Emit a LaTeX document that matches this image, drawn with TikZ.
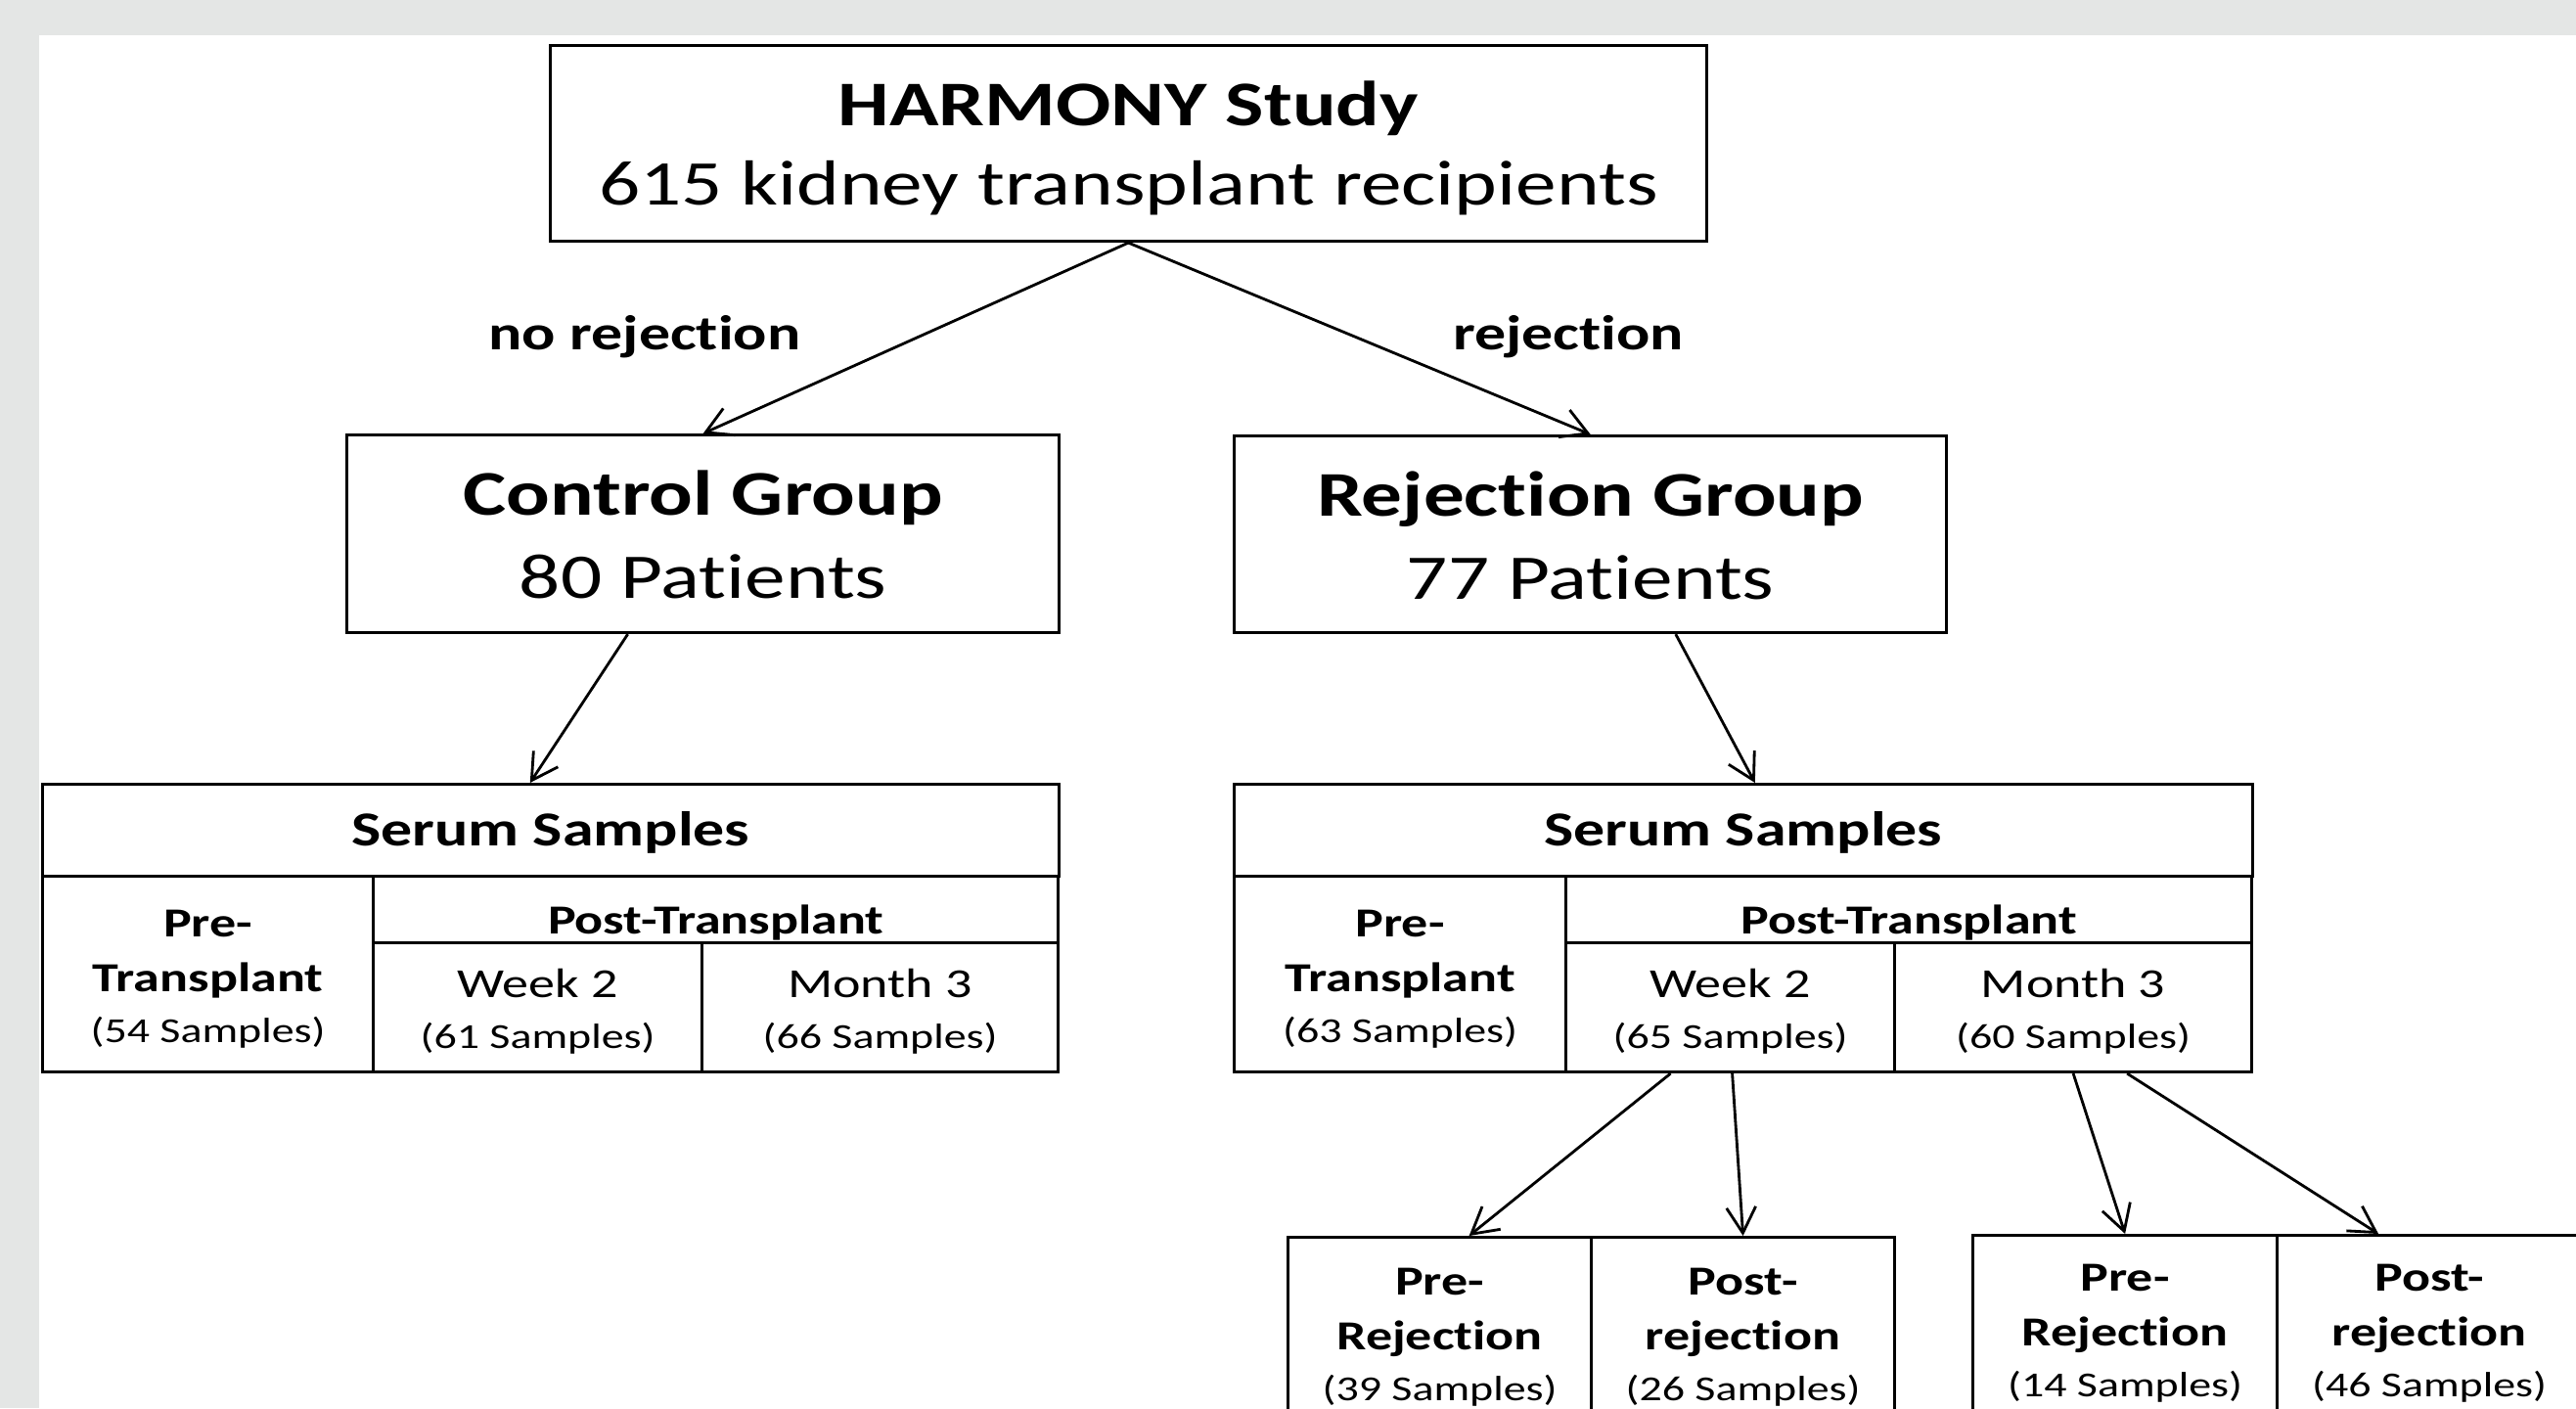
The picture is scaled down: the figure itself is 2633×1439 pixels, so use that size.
\documentclass[tikz,border=0pt]{standalone}
\usepackage{fontspec}
\setmainfont{Carlito}[FakeStretch=1.28,Ligatures=NoCommon]
\usetikzlibrary{arrows.meta,calc}
\definecolor{bggray}{RGB}{228,230,229}
\newcommand\szbig{\fontsize{18.5}{23}\selectfont}
\newcommand\szmed{\fontsize{14.2}{17}\selectfont}
\newcommand\sztab{\fontsize{12}{15.8}\selectfont}
\newcommand\szsmp{\fontsize{10.2}{12}\selectfont}
\newcommand\cellt[1]{\begin{tabular}[t]{@{}c@{}}#1\end{tabular}}
\newcommand\smp[1]{{\szsmp(#1 Samples)}}
\begin{document}
\begin{tikzpicture}[x=0.01cm,y=-0.01cm,
  cell/.style={draw, line width=0.85pt, inner sep=0pt, anchor=north west},
  conn/.style={-{Straight Barb[length=7.5pt,width=8.5pt]}, line width=0.8pt},
  lbl/.style={anchor=base, inner sep=0pt, font=\szmed\bfseries}]
\clip (0,0) rectangle (2633,1439);
\fill[bggray] (0,0) rectangle (2633,1439);
\fill[white] (40,36) rectangle (2633,1439);

% top level
\node[cell, minimum width=11.81cm, text height=0.82cm, text depth=1.18cm] (top) at (561,45)
  {\szbig\cellt{\bfseries HARMONY Study\\615 kidney transplant recipients}};
\node[cell, minimum width=7.28cm, text height=0.82cm, text depth=1.20cm] (ctrl) at (353,443)
  {\szbig\cellt{\bfseries Control Group\\[1.2pt]80 Patients}};
\node[cell, minimum width=7.28cm, text height=0.82cm, text depth=1.19cm] (rej) at (1260,444)
  {\szbig\cellt{\bfseries Rejection Group\\[1.2pt]77 Patients}};

\node[lbl] (lno) at (659,357) {no rejection};
\node[lbl] (lyes) at (1603,357) {rejection};

% left serum table
\node[cell, minimum width=10.38cm, text height=0.63cm, text depth=0.31cm] (lss) at (42,800)
  {\szmed\cellt{\bfseries Serum Samples}};
\node[cell, minimum width=3.38cm, text height=0.62cm, text depth=1.38cm] (lpre) at (42,894)
  {\sztab\cellt{\bfseries Pre-\\\bfseries Transplant\\[-1pt]\smp{54}}};
\node[cell, minimum width=7.00cm, text height=0.59cm, text depth=0.09cm] (lpost) at (380,894)
  {\sztab\cellt{\bfseries Post-Transplant}};
\node[cell, minimum width=3.36cm, text height=0.56cm, text depth=0.76cm] (lw2) at (380,962)
  {\sztab\cellt{Week 2\\[-1pt]\smp{61}}};
\node[cell, minimum width=3.64cm, text height=0.56cm, text depth=0.76cm] (lm3) at (716,962)
  {\sztab\cellt{Month 3\\[-1pt]\smp{66}}};

% right serum table
\node[cell, minimum width=10.40cm, text height=0.63cm, text depth=0.31cm] (rss) at (1260,800)
  {\szmed\cellt{\bfseries Serum Samples}};
\node[cell, minimum width=3.39cm, text height=0.62cm, text depth=1.38cm] (rpre) at (1260,894)
  {\sztab\cellt{\bfseries Pre-\\\bfseries Transplant\\[-1pt]\smp{63}}};
\node[cell, minimum width=7.01cm, text height=0.59cm, text depth=0.09cm] (rpost) at (1599,894)
  {\sztab\cellt{\bfseries Post-Transplant}};
\node[cell, minimum width=3.36cm, text height=0.56cm, text depth=0.76cm] (rw2) at (1599,962)
  {\sztab\cellt{Week 2\\[-1pt]\smp{65}}};
\node[cell, minimum width=3.65cm, text height=0.56cm, text depth=0.76cm] (rm3) at (1935,962)
  {\sztab\cellt{Month 3\\[-1pt]\smp{60}}};

% bottom boxes
\node[cell, minimum width=3.10cm, text height=0.59cm, text depth=1.58cm] (bpre1) at (1315,1263)
  {\sztab\cellt{\bfseries Pre-\\\bfseries Rejection\\[-1pt]\smp{39}}};
\node[cell, minimum width=3.10cm, text height=0.59cm, text depth=1.58cm] (bpost1) at (1625,1263)
  {\sztab\cellt{\bfseries Post-\\\bfseries rejection\\[-1pt]\smp{26}}};
\node[cell, minimum width=3.11cm, text height=0.57cm, text depth=1.60cm] (bpre2) at (2015,1261)
  {\sztab\cellt{\bfseries Pre-\\\bfseries Rejection\\[-1pt]\smp{14}}};
\node[cell, minimum width=3.11cm, text height=0.57cm, text depth=1.60cm] (bpost2) at (2326,1261)
  {\sztab\cellt{\bfseries Post-\\\bfseries rejection\\[-1pt]\smp{46}}};

% connectors
\draw[conn] (top.south) -- (ctrl.north);
\draw[conn] (top.south) -- (rej.north);
\draw[conn] ([xshift=-7.7mm]ctrl.south) -- ([xshift=-2.1mm]lss.north);
\draw[conn] ([xshift=8.7mm]rej.south) -- ([xshift=1.2mm]rss.north);
\draw[conn] ([xshift=-6.1mm]rw2.south) -- ([xshift=3mm]bpre1.north);
\draw[conn] ([xshift=0.2mm]rw2.south) -- (bpost1.north);
\draw[conn] (rm3.south) -- (bpre2.north);
\draw[conn] ([xshift=5.5mm]rm3.south) -- ([xshift=-5.2mm]bpost2.north);
\end{tikzpicture}
\end{document}
